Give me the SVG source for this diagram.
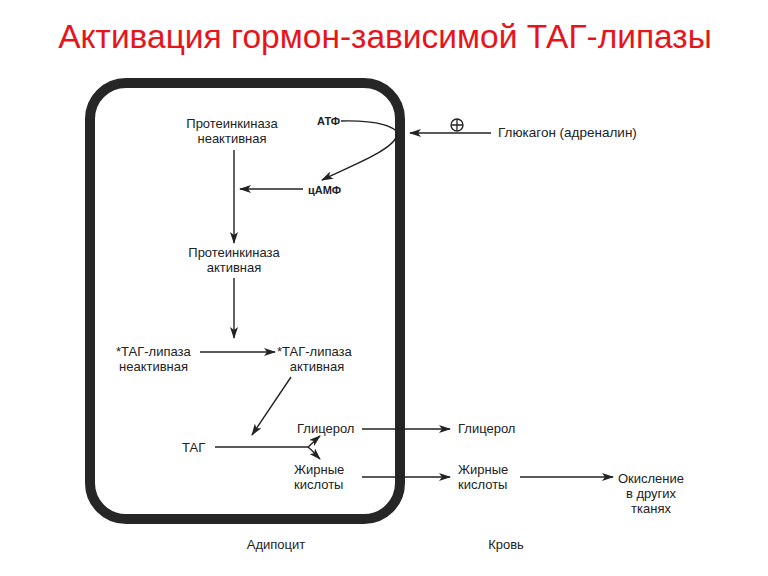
<svg xmlns="http://www.w3.org/2000/svg" width="768" height="576" viewBox="0 0 768 576">
<style>
.t{font-family:"Liberation Sans",Arial,sans-serif;font-size:13px;fill:#222;}
.b{font-weight:bold;font-size:11px;}
.m{text-anchor:middle;}
.ln{fill:none;stroke:#222;stroke-width:1.4;}
.title{font-family:"Liberation Sans",Arial,sans-serif;font-size:33.5px;fill:#e8141c;text-anchor:middle;}
</style>
<defs>
<marker id="ah" markerWidth="12" markerHeight="8" refX="11" refY="4" orient="auto" markerUnits="userSpaceOnUse">
<path d="M0,0 L12,4 L0,8 L3,4 Z" fill="#222"/>
</marker>
</defs>
<rect width="768" height="576" fill="#fff"/>
<text class="title" x="385" y="48">Активация гормон-зависимой ТАГ-липазы</text>
<g id="cell"><rect x="90" y="83" width="310" height="436" rx="36" fill="none" stroke="#262626" stroke-width="10"/></g>
<g id="connectors">
<path class="ln" d="M491,133 L410,133" marker-end="url(#ah)"/>
<path class="ln" d="M341,121 C378,120 398,127 397,135 C394,150 350,166 322,180" marker-end="url(#ah)"/>
<path class="ln" d="M303,189 L240,189" marker-end="url(#ah)"/>
<path class="ln" d="M234,150 L234,243" marker-end="url(#ah)"/>
<path class="ln" d="M234,278 L234,338" marker-end="url(#ah)"/>
<path class="ln" d="M200,352 L275,352" marker-end="url(#ah)"/>
<path class="ln" d="M291,377 L252,435" marker-end="url(#ah)"/>
<path class="ln" d="M215,447 L308,447"/>
<path class="ln" d="M308,447 C312,444 314,441 320,436" marker-end="url(#ah)"/>
<path class="ln" d="M308,447 C312,450 314,453 320,459" marker-end="url(#ah)"/>
<path class="ln" d="M362,429 L450,429" marker-end="url(#ah)"/>
<path class="ln" d="M362,477 L450,477" marker-end="url(#ah)"/>
<path class="ln" d="M520,477 L613,477" marker-end="url(#ah)"/>
</g>
<g id="plus"><circle cx="457" cy="125" r="6" fill="none" stroke="#222" stroke-width="1.3"/><path d="M451,125 H463 M457,119 V131" stroke="#222" stroke-width="1.3"/></g>
<g id="glucagon"><text class="t" x="498" y="137" style="font-size:13.5px">Глюкагон (адреналин)</text></g>
<g id="pk-inactive"><text class="t m" x="232" y="128">Протеинкиназа</text><text class="t m" x="232" y="143">неактивная</text></g>
<g id="atf"><text class="t b" x="317" y="125">АТФ</text></g>
<g id="camp"><text class="t b" x="308" y="194">цАМФ</text></g>
<g id="pk-active"><text class="t m" x="234" y="257">Протеинкиназа</text><text class="t m" x="234" y="272">активная</text></g>
<g id="tag-lipase-inactive"><text class="t" x="116" y="356">*ТАГ-липаза</text><text class="t" x="119" y="371">неактивная</text></g>
<g id="tag-lipase-active"><text class="t" x="277" y="356">*ТАГ-липаза</text><text class="t m" x="317" y="371">активная</text></g>
<g id="tag"><text class="t" x="182" y="452">ТАГ</text></g>
<g id="glycerol-in"><text class="t" x="297" y="433">Глицерол</text></g>
<g id="fa-in"><text class="t" x="294" y="474">Жирные</text><text class="t" x="294" y="489">кислоты</text></g>
<g id="glycerol-out"><text class="t" x="458" y="433">Глицерол</text></g>
<g id="fa-out"><text class="t" x="458" y="474">Жирные</text><text class="t" x="458" y="489">кислоты</text></g>
<g id="oxidation"><text class="t m" x="651" y="483">Окисление</text><text class="t m" x="651" y="498">в других</text><text class="t m" x="651" y="513">тканях</text></g>
<g id="adipocyte"><text class="t m" x="276" y="549">Адипоцит</text></g>
<g id="blood"><text class="t m" x="506" y="549">Кровь</text></g>
</svg>
